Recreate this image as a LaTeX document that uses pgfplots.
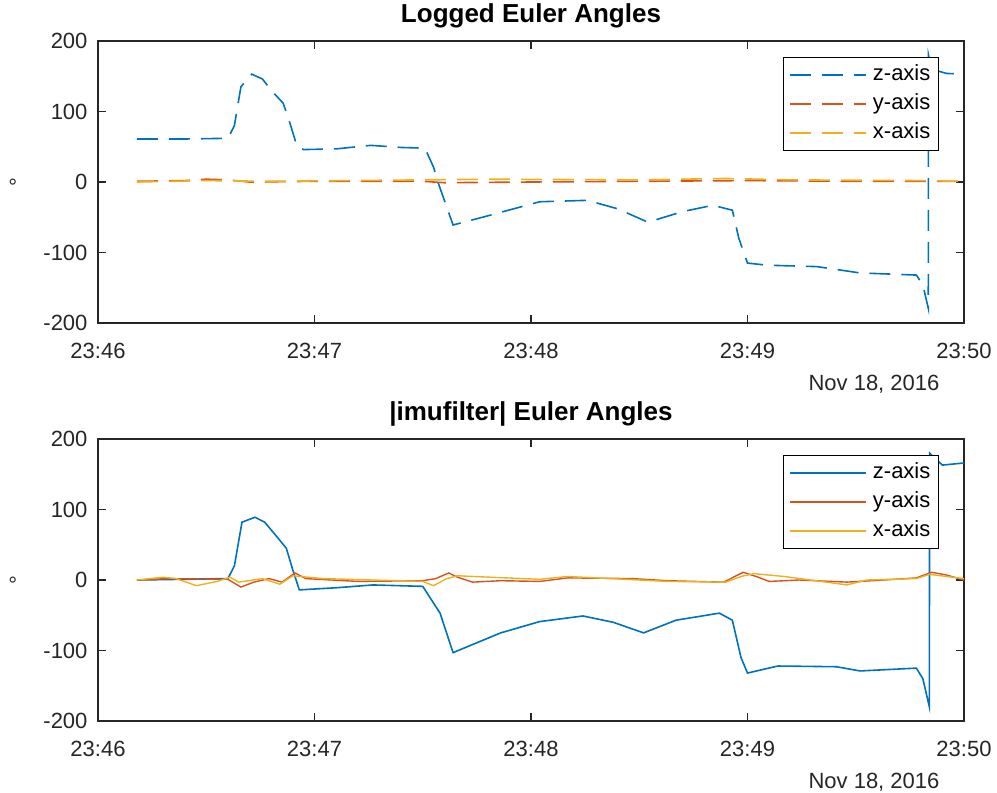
\documentclass[border=0pt]{standalone}
\usepackage{fontspec}
\setmainfont{Liberation Sans}
\usepackage{pgfplots}
\pgfplotsset{compat=1.18}

\definecolor{mblue}{rgb}{0,0.447,0.741}
\definecolor{mred}{rgb}{0.85,0.325,0.098}
\definecolor{myellow}{rgb}{0.929,0.694,0.125}
\definecolor{maxis}{rgb}{0.15,0.15,0.15}

\newcommand{\lbl}{\fontsize{22}{26}\selectfont}

\pgfplotsset{eulerax/.style={
    scale only axis, width=866pt, height=282pt,
    xmin=0, xmax=4, ymin=-200, ymax=200,
    xtick={0,1,2,3,4}, xticklabels={23:46,23:47,23:48,23:49,23:50},
    ytick={-200,-100,0,100,200},
    tick align=inside, major tick length=8pt,
    axis line style={maxis, line width=1.2pt},
    every tick/.style={maxis, line width=1.2pt},
    tick label style={font=\lbl, text=maxis},
    /pgf/number format/assume math mode=true,
    xticklabel style={anchor=base, yshift=-35pt},
    yticklabel style={xshift=-7pt},
    ylabel={°}, ylabel style={at={(axis description cs:-0.093,0.5)}, anchor=center, font=\lbl, text=maxis},
    title style={at={(axis description cs:0.5,1)}, anchor=base, yshift=13pt, font=\bfseries\fontsize{26}{30}\selectfont, text=black},
    legend style={at={(0.971,0.943)}, anchor=north east, draw=black, line width=1pt, fill=white,
        font=\lbl, inner xsep=6pt, inner ysep=3pt,
        nodes={inner sep=2pt, text height=18pt, text depth=7pt},
        /tikz/every odd column/.append style={column sep=4pt}},
    legend cell align=left,
    legend image code/.code={\draw[#1] (0pt,0pt) -- (76pt,0pt);},
}}

\begin{document}
\begin{tikzpicture}
\path[use as bounding box] (0pt,0pt) rectangle (997pt,-793pt);

% logged angles
\begin{axis}[eulerax, at={(98pt,-323pt)}, anchor=south west, title={Logged Euler Angles}]
\addplot[mblue, line width=1.6pt, dash pattern=on 21pt off 11pt] coordinates {
(0.18,61) (0.40,61) (0.60,62) (0.63,80) (0.66,135) (0.71,153) (0.76,146) (0.80,130)
(0.855,112) (0.88,90) (0.92,50) (0.95,46) (1.10,47) (1.26,52) (1.40,49) (1.51,48)
(1.55,21) (1.57,0) (1.64,-61) (1.80,-48) (2.04,-28) (2.26,-26) (2.40,-38) (2.54,-57)
(2.70,-42) (2.84,-33) (2.93,-40) (2.96,-80) (3.00,-115) (3.09,-118) (3.32,-120)
(3.52,-129) (3.78,-132) (3.81,-146) (3.835,-179) (3.836,180) (3.85,160) (3.92,154) (4.00,153)};
\addlegendentry{z-axis}
\addplot[mred, line width=1.6pt, dash pattern=on 21pt off 11pt] coordinates {
(0.18,1) (0.40,2) (0.50,4) (0.60,3) (0.70,0) (1.00,1) (1.50,1) (1.60,-1) (2.00,0)
(2.50,1) (3.00,2) (3.50,1) (4.00,1)};
\addlegendentry{y-axis}
\addplot[myellow, line width=1.6pt, dash pattern=on 21pt off 11pt] coordinates {
(0.18,0) (0.50,2) (0.80,1) (1.50,3) (1.80,4) (2.50,3) (2.90,5) (3.20,3) (3.80,2) (4.00,1)};
\addlegendentry{x-axis}
\end{axis}
\node[anchor=base, font=\lbl, text=maxis] at (874pt,-390pt) {Nov 18, 2016};

% imufilter angles
\begin{axis}[eulerax, at={(98pt,-721pt)}, anchor=south west, title={|imufilter| Euler Angles}]
\addplot[mblue, line width=1.6pt] coordinates {
(0.18,0) (0.60,2) (0.63,20) (0.665,82) (0.725,89) (0.77,82) (0.83,60) (0.87,45)
(0.90,14) (0.93,-14) (1.10,-11) (1.27,-7) (1.50,-9) (1.58,-47) (1.64,-103) (1.86,-75)
(2.04,-59) (2.24,-51) (2.38,-60) (2.52,-75) (2.67,-57) (2.87,-47) (2.93,-57) (2.97,-110)
(3.00,-132) (3.14,-122) (3.41,-123) (3.52,-129) (3.78,-125) (3.81,-140) (3.84,-180)
(3.841,180) (3.90,163) (4.00,166)};
\addlegendentry{z-axis}
\addplot[mred, line width=1.4pt] coordinates {
(0.18,0) (0.32,2) (0.60,1) (0.66,-10) (0.72,-3) (0.79,2) (0.85,-3) (0.91,10) (0.96,2)
(1.20,-2) (1.50,-1) (1.56,2) (1.62,10) (1.66,4) (1.73,-3) (1.86,-1) (2.04,-2) (2.17,3)
(2.47,2) (2.63,-1) (2.89,-3) (2.98,11) (3.04,5) (3.10,-2) (3.24,0) (3.46,-3) (3.63,0)
(3.78,3) (3.85,11) (3.92,7) (4.00,0)};
\addlegendentry{y-axis}
\addplot[myellow, line width=1.4pt] coordinates {
(0.18,0) (0.30,4) (0.36,2) (0.455,-8) (0.55,-2) (0.61,4) (0.65,-3) (0.76,2) (0.84,-6)
(0.90,6) (1.04,2) (1.50,-2) (1.55,-8) (1.61,2) (1.66,6) (1.81,4) (2.04,1) (2.17,5)
(2.63,-2) (2.90,-3) (2.97,5) (3.03,9) (3.17,5) (3.46,-7) (3.55,0) (3.78,2) (3.84,8) (4.00,2)};
\addlegendentry{x-axis}
\end{axis}
\node[anchor=base, font=\lbl, text=maxis] at (874pt,-788pt) {Nov 18, 2016};
\end{tikzpicture}
\end{document}
